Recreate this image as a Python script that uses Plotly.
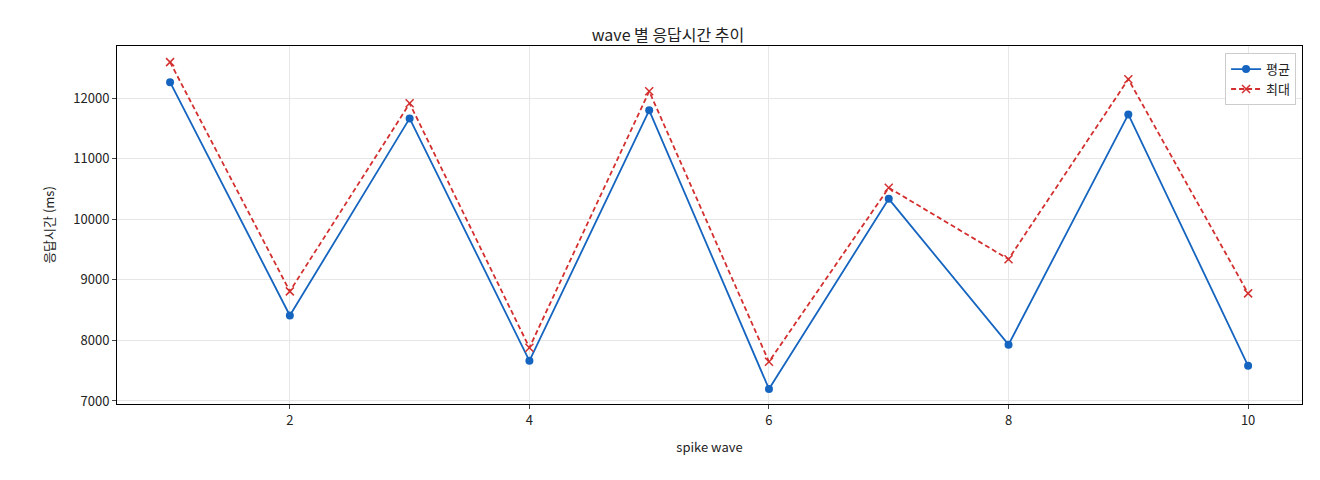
import plotly.graph_objects as go

waves = [1, 2, 3, 4, 5, 6, 7, 8, 9, 10]
avg_ms = [12266, 8412, 11668, 7664, 11801, 7199, 10339, 7930, 11734, 7581]
max_ms = [12598, 8811, 11917, 7880, 12116, 7648, 10522, 9342, 12316, 8777]

fig = go.Figure()
fig.add_trace(go.Scatter(x=waves, y=avg_ms, name="평균", mode="lines+markers",
                         line=dict(color="#1565c0", width=1.8),
                         marker=dict(symbol="circle", size=8, color="#1565c0")))
fig.add_trace(go.Scatter(x=waves, y=max_ms, name="최대", mode="lines+markers",
                         line=dict(color="#d32f2f", width=1.8, dash="5px,3px"),
                         marker=dict(symbol="x-thin", size=8, color="#d32f2f",
                                     line=dict(color="#d32f2f", width=1.5))))

axis_style = dict(showline=True, linecolor="black", mirror=True, ticks="outside",
                  ticklen=4, gridcolor="#e6e6e6", zeroline=False,
                  tickfont=dict(size=13, color="#222"))
fig.update_layout(
    width=1320, height=480,
    margin=dict(l=109, r=26, t=38, b=84),
    plot_bgcolor="white", paper_bgcolor="white",
    font=dict(family="Noto Sans CJK KR, Noto Sans, sans-serif", color="#222"),
    title=dict(text="wave 별 응답시간 추이", x=0.5, xanchor="center", y=0.955,
               font=dict(size=16)),
    xaxis=dict(range=[0.557, 10.45], tickvals=[2, 4, 6, 8, 10],
               title=dict(text="spike wave", font=dict(size=13)), **axis_style),
    yaxis=dict(range=[6950, 12864], tickvals=[7000, 8000, 9000, 10000, 11000, 12000],
               tickformat="d",
               title=dict(text="응답시간 (ms)", font=dict(size=13)), **axis_style),
    legend=dict(x=0.995, y=0.98, xanchor="right", yanchor="top",
                bordercolor="#cccccc", borderwidth=1, bgcolor="white",
                font=dict(size=13)),
)
fig.write_html("out.html")
